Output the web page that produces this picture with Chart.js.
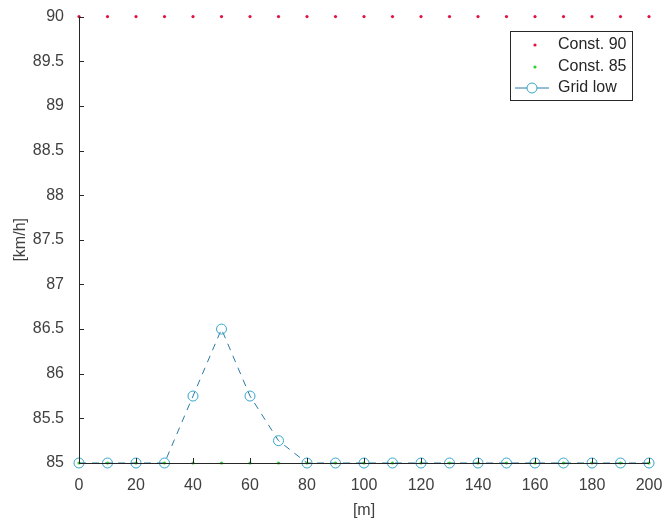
<!DOCTYPE html>
<html>
<head>
<meta charset="utf-8">
<script src="https://cdn.jsdelivr.net/npm/chart.js@4/dist/chart.umd.min.js"></script>
<style>
  html, body { margin: 0; padding: 0; background: #fff; }
  #wrap { width: 664px; height: 526px; }
</style>
</head>
<body>
<div id="wrap"><canvas id="chart" width="664" height="526"></canvas></div>
<script>
// distance along the road [m]
const distance = [0, 10, 20, 30, 40, 50, 60, 70, 80, 90, 100,
                  110, 120, 130, 140, 150, 160, 170, 180, 190, 200];
const const90 = [90, 90, 90, 90, 90, 90, 90, 90, 90, 90, 90,
                 90, 90, 90, 90, 90, 90, 90, 90, 90, 90];
const const85 = [85, 85, 85, 85, 85, 85, 85, 85, 85, 85, 85,
                 85, 85, 85, 85, 85, 85, 85, 85, 85, 85];
const gridLow = [85, 85, 85, 85, 85.75, 86.5, 85.75, 85.25, 85, 85, 85,
                 85, 85, 85, 85, 85, 85, 85, 85, 85, 85];
const seriesNames = ["Const. 90", "Const. 85", "Grid low"];

const FONT = "'Liberation Sans', Arial, Helvetica, sans-serif";
const lineCol = "#2a7aa6";
const markCol = "#37a6c9";

const toPoints = (ys) => distance.map((x, i) => ({ x: x, y: ys[i] }));

// matlab-ish axes: inward ticks, drawn on top of the data
const axesOnTop = {
  id: "axesOnTop",
  afterDatasetsDraw(chart) {
    const ctx = chart.ctx;
    const a = chart.chartArea;
    const xs = chart.scales.x, ys = chart.scales.y;
    ctx.save();
    ctx.strokeStyle = "#262626";
    ctx.lineWidth = 1;
    ctx.beginPath();
    ctx.moveTo(a.left + 0.5, a.top);
    ctx.lineTo(a.left + 0.5, a.bottom + 0.5);
    ctx.lineTo(a.right, a.bottom + 0.5);
    ctx.stroke();
    ctx.beginPath();
    xs.ticks.forEach((t) => {
      const px = Math.round(xs.getPixelForValue(t.value)) + 0.5;
      ctx.moveTo(px, a.bottom);
      ctx.lineTo(px, a.bottom - 5);
    });
    ys.ticks.forEach((t) => {
      const py = Math.round(ys.getPixelForValue(t.value)) + 0.5;
      ctx.moveTo(a.left, py);
      ctx.lineTo(a.left + 5, py);
    });
    ctx.stroke();
    ctx.restore();
  },
};

const boxLegend = {
  id: "boxLegend",
  afterDraw(chart) {
    const ctx = chart.ctx;
    const left = 510, top = 31, w = 122, h = 69;
    ctx.save();
    ctx.fillStyle = "#fff";
    ctx.fillRect(left, top, w, h);
    ctx.strokeStyle = "#262626";
    ctx.lineWidth = 1;
    ctx.strokeRect(left + 0.5, top + 0.5, w, h);
    ctx.font = "16px " + FONT;
    ctx.textBaseline = "middle";
    ctx.fillStyle = "#262626";
    const rows = [45, 67, 88];
    rows.forEach((ry, i) => ctx.fillText(seriesNames[i], 558, ry));
    // markers
    ctx.fillStyle = "#e4123f";
    ctx.beginPath(); ctx.arc(535, rows[0], 1.6, 0, Math.PI * 2); ctx.fill();
    ctx.fillStyle = "#2ed02e";
    ctx.beginPath(); ctx.arc(535, rows[1], 1.6, 0, Math.PI * 2); ctx.fill();
    ctx.strokeStyle = lineCol;
    ctx.beginPath(); ctx.moveTo(515, rows[2]); ctx.lineTo(549, rows[2]); ctx.stroke();
    ctx.fillStyle = "#fff";
    ctx.strokeStyle = markCol;
    ctx.beginPath(); ctx.arc(532, rows[2], 5, 0, Math.PI * 2); ctx.fill(); ctx.stroke();
    ctx.restore();
  },
};

new Chart(document.getElementById("chart"), {
  type: "scatter",
  data: {
    datasets: [
      {
        label: seriesNames[0],
        data: toPoints(const90),
        showLine: false,
        pointRadius: 1.6,
        pointBackgroundColor: "#e4123f",
        pointBorderWidth: 0,
        clip: false,
      },
      {
        label: seriesNames[1],
        data: toPoints(const85),
        showLine: false,
        pointRadius: 1.6,
        pointBackgroundColor: "#2ed02e",
        pointBorderWidth: 0,
        clip: false,
      },
      {
        label: seriesNames[2],
        data: toPoints(gridLow),
        showLine: true,
        borderColor: lineCol,
        borderWidth: 1,
        borderDash: [7, 6],
        pointRadius: 5,
        pointBorderColor: markCol,
        pointBorderWidth: 1,
        pointBackgroundColor: "rgba(0,0,0,0)",
        clip: false,
      },
    ],
  },
  options: {
    responsive: false,
    animation: false,
    layout: { padding: { top: 13, right: 15, left: 0, bottom: 0 } },
    plugins: {
      legend: { display: false },
      tooltip: { enabled: false },
    },
    scales: {
      x: {
        type: "linear",
        min: 0,
        max: 200,
        grid: { display: false },
        border: { display: false },
        ticks: {
          stepSize: 20,
          padding: 5,
          color: "#404040",
          font: { size: 16, family: FONT },
          maxRotation: 0,
          callback: (v) => String(v),
        },
        title: {
          display: true,
          text: "[m]",
          color: "#404040",
          font: { size: 16, family: FONT },
          padding: { top: 0, bottom: 6 },
        },
        afterFit: (s) => {
          s.height = 63;
          s.paddingLeft = 0;
          s.paddingRight = 0;
        },
      },
      y: {
        min: 85,
        max: 90,
        grid: { display: false },
        border: { display: false },
        ticks: {
          stepSize: 0.5,
          padding: 7,
          color: "#404040",
          font: { size: 16, family: FONT },
          callback: (v) => String(Math.round(v * 10) / 10),
        },
        title: {
          display: true,
          text: "[km/h]",
          color: "#404040",
          font: { size: 16, family: FONT },
          padding: { top: 11, bottom: 0 },
        },
        afterFit: (s) => { s.width = 79; },
      },
    },
  },
  plugins: [axesOnTop, boxLegend],
});
</script>
</body>
</html>
